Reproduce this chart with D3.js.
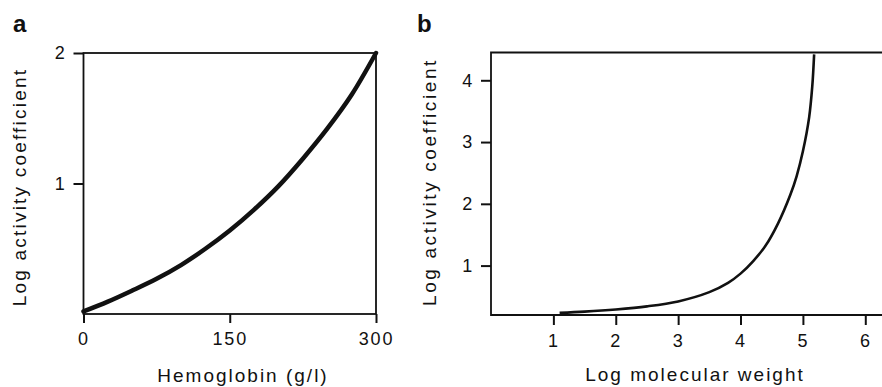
<!DOCTYPE html>
<html>
<head>
<meta charset="utf-8">
<script src="https://cdn.jsdelivr.net/npm/d3@7"></script>
<style>
  body { margin: 0; background: #fff; }
  svg text { font-family: "Liberation Sans", Arial, sans-serif; fill: #111; }
  .tick text { font-size: 18px; letter-spacing: 1.8px; }
  .title { font-size: 19px; letter-spacing: 2px; }
  .panel { font-size: 24px; font-weight: bold; }
</style>
</head>
<body>
<svg id="chart" width="882" height="387"></svg>
<script>
// panel a: hemoglobin vs log activity coefficient
var hbX = [0, 25, 50, 75, 100, 125, 150, 175, 200, 225, 250, 275, 300];
var hbY = [0.02, 0.095, 0.18, 0.27, 0.375, 0.50, 0.64, 0.80, 0.98, 1.19, 1.42, 1.68, 2.0];
var hbTicksX = [0, 150, 300];
var hbTicksY = [1, 2];

// panel b: log molecular weight vs log activity coefficient
var mwX = [1.1, 1.5, 2, 2.5, 3, 3.5, 3.8, 4, 4.2, 4.4, 4.6, 4.8, 4.9, 5.0, 5.1, 5.15, 5.18];
var mwY = [0.235, 0.255, 0.29, 0.34, 0.42, 0.57, 0.72, 0.87, 1.07, 1.32, 1.68, 2.15, 2.45, 2.85, 3.4, 3.9, 4.42];
var mwTicksX = [1, 2, 3, 4, 5, 6];
var mwTicksY = [1, 2, 3, 4];

var svg = d3.select("#chart");
var ink = "#111";

function styleAxis(g) {
  g.selectAll(".domain").remove();
  g.selectAll(".tick line").attr("stroke", ink).attr("stroke-width", 2);
  g.selectAll(".tick text").attr("fill", ink);
}

// ---- panel a ----
var xa = d3.scaleLinear().domain([0, 300]).range([83.5, 376]);
var ya = d3.scaleLinear().domain([0, 2]).range([314, 53]);

var ga = svg.append("g");
ga.append("rect")
  .attr("x", xa(0)).attr("y", ya(2))
  .attr("width", xa(300) - xa(0)).attr("height", ya(0) - ya(2))
  .attr("fill", "none").attr("stroke", ink).attr("stroke-width", 1.8);

ga.append("g").attr("transform", "translate(0," + ya(0) + ")")
  .call(d3.axisBottom(xa).tickValues(hbTicksX).tickSize(9).tickPadding(9))
  .call(styleAxis);
ga.append("g").attr("transform", "translate(" + xa(0) + ",0)")
  .call(d3.axisLeft(ya).tickValues(hbTicksY).tickSize(10).tickPadding(7).tickFormat(d3.format("d")))
  .call(styleAxis);

ga.append("path")
  .datum(d3.zip(hbX, hbY))
  .attr("fill", "none").attr("stroke", ink).attr("stroke-width", 4.5)
  .attr("stroke-linecap", "round")
  .attr("d", d3.line().x(d => xa(d[0])).y(d => ya(d[1])).curve(d3.curveCatmullRom));

ga.append("text").attr("class", "title").attr("x", 243).attr("y", 382)
  .attr("text-anchor", "middle").text("Hemoglobin (g/l)");
ga.append("text").attr("class", "title").style("letter-spacing", "2.2px")
  .attr("transform", "translate(26,187) rotate(-90)")
  .attr("text-anchor", "middle").text("Log activity coefficient");
ga.append("text").attr("class", "panel").attr("x", 13).attr("y", 32).text("a");

// ---- panel b ----
var xb = d3.scaleLinear().domain([0, 6.3]).range([491, 884]);
var yb = d3.scaleLinear().domain([0.2, 4.45]).range([315, 52.5]);

var gb = svg.append("g");
gb.append("path")
  .attr("d", "M" + 884 + "," + yb(4.45) + "H" + xb(0) + "V" + yb(0.2) + "H" + 884)
  .attr("fill", "none").attr("stroke", ink).attr("stroke-width", 1.8);

gb.append("g").attr("transform", "translate(0," + yb(0.2) + ")")
  .call(d3.axisBottom(xb).tickValues(mwTicksX).tickSize(10).tickPadding(9).tickFormat(d3.format("d")))
  .call(styleAxis);
gb.append("g").attr("transform", "translate(" + xb(0) + ",0)")
  .call(d3.axisLeft(yb).tickValues(mwTicksY).tickSize(10).tickPadding(7).tickFormat(d3.format("d")))
  .call(styleAxis);

gb.append("path")
  .datum(d3.zip(mwX, mwY))
  .attr("fill", "none").attr("stroke", ink).attr("stroke-width", 2.6)
  .attr("d", d3.line().x(d => xb(d[0])).y(d => yb(d[1])).curve(d3.curveCatmullRom));

gb.append("text").attr("class", "title").attr("x", 695).attr("y", 381)
  .attr("text-anchor", "middle").text("Log molecular weight");
gb.append("text").attr("class", "title").style("letter-spacing", "2.6px")
  .attr("transform", "translate(436,182) rotate(-90)")
  .attr("text-anchor", "middle").text("Log activity coefficient");
gb.append("text").attr("class", "panel").attr("x", 417).attr("y", 32).text("b");
</script>
</body>
</html>
